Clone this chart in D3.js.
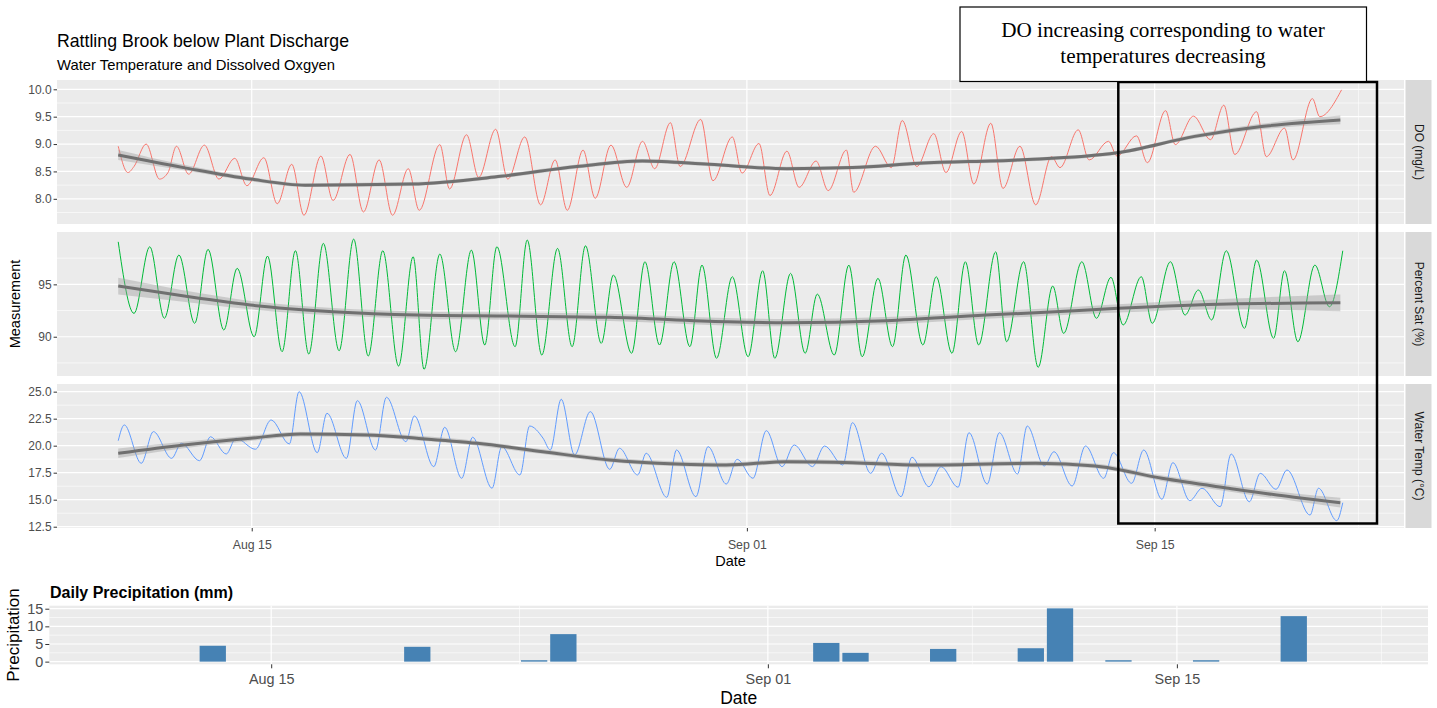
<!DOCTYPE html>
<html>
<head>
<meta charset="utf-8">
<script src="https://cdn.jsdelivr.net/npm/d3@7"></script>
<style>
  body { margin: 0; background: #fff; }
  svg { display: block; font-family: Arial, "Liberation Sans", sans-serif; }
</style>
</head>
<body>
<div id="chart"></div>
<script>
// logger readings, hours since 2019-08-10 00:00 (daily highs and lows)
const doHours = [10,18,23,33,44,51,58,68,81,93,106,116,130,141,153,163,177,187,201,212,225,236,249,258,275,283,297,307,321,331,345,358,370,380,393,403,416,429,442,452,465,473,490,500,516,524,538,547,561,571,585,595,610,616,634,647,656,668,682,692,705,715,729,739,753,766,779,786,801,810,826,833,849,858,873,881,896,910,921,930,948,956,971,978,994,1000,1018];
const doValues = [8.96,8.48,8.59,9.0,8.36,8.48,8.96,8.45,8.98,8.36,8.74,8.24,8.75,7.91,8.63,7.70,8.78,7.97,8.81,7.76,8.71,7.70,8.55,7.79,8.99,8.18,9.17,8.39,9.27,8.36,9.13,7.89,8.71,7.79,8.89,8.01,8.98,8.21,9.05,8.55,9.39,8.59,9.45,8.33,9.13,8.47,9.01,8.06,8.87,8.21,8.69,8.15,8.89,8.12,8.96,8.57,9.43,8.59,9.19,8.48,9.23,8.27,9.38,8.19,8.96,7.89,8.77,8.57,9.26,8.71,9.05,8.78,9.15,8.66,9.61,8.99,9.51,9.08,9.71,8.81,9.59,8.77,9.29,8.71,9.83,9.50,9.99];

const satHours = [10,23,36,48,60,73,84,97,108,122,133,145,156,167,179,192,204,216,228,241,253,262,275,288,301,312,322,337,347,359,372,384,395,408,418,433,444,456,468,481,491,503,516,529,541,551,564,576,586,600,612,623,636,648,659,673,684,697,708,719,733,742,756,768,780,789,804,816,828,838,853,862,877,889,900,911,923,938,948,962,971,982,996,1008,1019];
const satValues = [99.06,92.23,98.59,91.76,97.80,91.28,98.34,90.64,96.53,90.0,97.70,88.57,98.21,88.35,98.91,88.66,99.32,88.16,98.21,87.2,97.64,86.89,97.89,88.57,98.27,89.21,98.59,89.05,99.23,88.25,98.43,89.05,98.68,89.37,95.89,88.42,97.16,89.21,97.16,89.05,96.84,87.94,95.73,88.09,96.3,87.94,96.05,88.42,94.07,88.25,96.84,88.09,95.57,89.05,97.80,89.21,95.73,88.42,97.16,89.21,98.11,89.52,97.16,87.08,94.84,90.32,97.16,91.76,95.67,91.12,95.73,91.28,97.16,92.07,94.46,91.6,98.21,90.8,97.32,89.85,96.3,89.52,96.84,92.86,98.21];

const tempHours = [10,15,29,39,54,62,77,86,99,107,123,136,151,159,174,182,198,207,222,231,247,254,270,279,293,302,318,326,341,349,360,366,375,386,399,415,423,438,445,462,470,486,496,511,520,533,544,557,567,582,592,607,615,630,639,655,664,678,688,702,711,726,736,751,759,773,781,796,807,822,830,845,855,870,879,893,903,918,927,942,951,964,973,992,999,1014,1019];
const tempValues = [20.46,21.92,18.37,21.30,18.83,20.22,18.61,20.83,19.23,20.69,19.67,22.38,20.16,25.0,19.35,23.0,18.83,24.17,19.6,24.48,20.37,22.75,18.06,21.7,16.98,20.78,16.06,19.91,17.29,21.82,20.7,19.6,24.3,19.14,23.15,17.81,19.76,17.29,19.3,15.22,19.6,15.28,19.91,16.45,18.74,16.98,21.39,18.06,20.07,18.06,19.97,18.21,22.13,17.44,19.3,15.28,18.93,16.2,18.06,16.15,21.2,16.45,21.2,17.38,21.82,18.12,19.44,16.27,19.97,16.98,19.35,16.52,19.6,15.04,18.43,14.91,16.06,14.35,19.23,14.81,17.44,15.96,17.75,13.58,16.06,13.06,14.72];

// loess fits with half-width of the confidence band
const doSmoothHours = [10,64,119,164,252,325,388,442,497,561,615,670,752,833,897,952,1017];
const doSmooth = [8.80,8.57,8.36,8.25,8.27,8.41,8.59,8.69,8.63,8.55,8.57,8.65,8.71,8.84,9.14,9.32,9.44];
const doSe = [0.09,0.05,0.04,0.035,0.035,0.035,0.035,0.035,0.035,0.035,0.035,0.035,0.035,0.035,0.04,0.05,0.08];

const satSmoothHours = [10,78,119,187,256,333,415,511,561,643,725,766,834,925,1017];
const satSmooth = [94.84,93.66,93.02,92.39,92.07,91.97,91.85,91.43,91.34,91.53,92.07,92.29,92.71,93.12,93.24];
const satSe = [0.8,0.5,0.4,0.35,0.35,0.35,0.35,0.35,0.35,0.35,0.35,0.35,0.4,0.5,0.8];

const tempSmoothHours = [10,64,119,160,215,256,306,360,415,470,511,561,615,670,766,815,870,925,979,1017];
const tempSmooth = [19.3,20.07,20.69,21.08,20.99,20.69,20.22,19.44,18.68,18.31,18.21,18.52,18.43,18.21,18.37,18.12,16.98,16.06,15.22,14.72];
const tempSe = [0.45,0.3,0.25,0.22,0.22,0.22,0.22,0.22,0.22,0.22,0.22,0.22,0.22,0.22,0.22,0.22,0.25,0.3,0.35,0.45];

const dateTicks = ["2019-08-15", "2019-09-01", "2019-09-15"];

// daily precipitation, Aug 10 .. Sep 21
const precipStart = "2019-08-10";
const precipValues = [0,0,0,4.5,0,0,0,0,0,0,4.2,0,0,0,0.4,7.8,0,0,0,0,0,0,0,0,5.3,2.5,0,0,3.6,0,0,3.8,15.1,0,0.4,0,0,0.4,0,0,12.9,0,0];
const precipTicks = [0, 5, 10, 15];

const width = 1437, height = 708;
const svg = d3.select("#chart").append("svg")
  .attr("width", width)
  .attr("height", height);

const parseDay = d3.timeParse("%Y-%m-%d");
const t0 = parseDay("2019-08-10");
const hourToDate = h => new Date(t0.getTime() + h * 3600e3);
const fmtDate = d3.timeFormat("%b %d");
const xTickDates = dateTicks.map(parseDay);

function minorBreaks(major, lo, hi) {
  const b = major.slice();
  const out = [];
  if (lo < b[0]) b.unshift(b[0] - (b[1] - b[0]));
  if (hi > b[b.length - 1]) b.push(b[b.length - 1] + (b[b.length - 1] - b[b.length - 2]));
  for (let i = 0; i < b.length - 1; i++) out.push((b[i] + b[i + 1]) / 2);
  return out.filter(v => v >= lo && v <= hi);
}

const grey = "#EBEBEB", tickCol = "#333333", labCol = "#4D4D4D";

// ---------- top chart ----------
const left = 57, right = 1404;
const panelTops = [80, 232, 384], panelH = 144;

const hExt = d3.extent(d3.merge([doHours, satHours, tempHours]));
const hPad = (hExt[1] - hExt[0]) * 0.05;
const x = d3.scaleTime()
  .domain([hourToDate(hExt[0] - hPad), hourToDate(hExt[1] + hPad)])
  .range([left, right]);

const xMajorMs = xTickDates.map(d => +d);
const xMinor = minorBreaks(xMajorMs, +x.domain()[0], +x.domain()[1]).map(v => new Date(v));

const panels = [
  { label: "DO (mg/L)", hours: doHours, values: doValues, sh: doSmoothHours, sv: doSmooth, se: doSe,
    color: "#F8766D", domain: [7.54, 10.17], ticks: [8, 8.5, 9, 9.5, 10], fmt: d3.format(".1f") },
  { label: "Percent Sat (%)", hours: satHours, values: satValues, sh: satSmoothHours, sv: satSmooth, se: satSe,
    color: "#00BA38", domain: [86.25, 100.0], ticks: [90, 95], fmt: d3.format("d") },
  { label: "Water Temp (°C)", hours: tempHours, values: tempValues, sh: tempSmoothHours, sv: tempSmooth, se: tempSe,
    color: "#619CFF", domain: [12.38, 25.71], ticks: [12.5, 15, 17.5, 20, 22.5, 25], fmt: d3.format(".1f") }
];

panels.forEach((p, i) => {
  const top = panelTops[i];
  const y = d3.scaleLinear().domain(p.domain).range([top + panelH, top]);
  const g = svg.append("g");

  g.append("rect").attr("x", left).attr("y", top)
    .attr("width", right - left).attr("height", panelH).attr("fill", grey);

  const yMinor = minorBreaks(p.ticks, p.domain[0], p.domain[1]);
  g.selectAll(".ymin").data(yMinor).enter().append("line")
    .attr("x1", left).attr("x2", right).attr("y1", d => y(d)).attr("y2", d => y(d))
    .attr("stroke", "#fff").attr("stroke-width", 0.6);
  g.selectAll(".xmin").data(xMinor).enter().append("line")
    .attr("x1", d => x(d)).attr("x2", d => x(d)).attr("y1", top).attr("y2", top + panelH)
    .attr("stroke", "#fff").attr("stroke-width", 0.6);
  g.selectAll(".ymaj").data(p.ticks).enter().append("line")
    .attr("x1", left).attr("x2", right).attr("y1", d => y(d)).attr("y2", d => y(d))
    .attr("stroke", "#fff").attr("stroke-width", 1.2);
  g.selectAll(".xmaj").data(xTickDates).enter().append("line")
    .attr("x1", d => x(d)).attr("x2", d => x(d)).attr("y1", top).attr("y2", top + panelH)
    .attr("stroke", "#fff").attr("stroke-width", 1.2);

  const pts = p.hours.map((h, k) => ({ d: hourToDate(h), v: p.values[k] }));
  g.append("path").datum(pts)
    .attr("fill", "none").attr("stroke", p.color).attr("stroke-width", 1)
    .attr("d", d3.line().x(d => x(d.d)).y(d => y(d.v)).curve(d3.curveMonotoneX));

  const sm = p.sh.map((h, k) => ({ d: hourToDate(h), v: p.sv[k], se: p.se[k] }));
  g.append("path").datum(sm)
    .attr("fill", "#999").attr("fill-opacity", 0.4)
    .attr("d", d3.area().x(d => x(d.d)).y0(d => y(d.v - d.se)).y1(d => y(d.v + d.se)).curve(d3.curveMonotoneX));
  g.append("path").datum(sm)
    .attr("fill", "none").attr("stroke", "#707070").attr("stroke-width", 3)
    .attr("d", d3.line().x(d => x(d.d)).y(d => y(d.v)).curve(d3.curveMonotoneX));

  const ax = g.append("g").attr("transform", `translate(${left},0)`)
    .call(d3.axisLeft(y).tickValues(p.ticks).tickFormat(p.fmt).tickSize(3.4).tickPadding(2));
  ax.select(".domain").remove();
  ax.selectAll("line").attr("stroke", tickCol);
  ax.selectAll("text").attr("fill", labCol).attr("font-size", "12px").attr("font-family", null);

  // strip
  g.append("rect").attr("x", right + 1.5).attr("y", top)
    .attr("width", 26).attr("height", panelH).attr("fill", "#D9D9D9");
  g.append("text")
    .attr("transform", `translate(${right + 14.5},${top + panelH / 2}) rotate(90)`)
    .attr("text-anchor", "middle").attr("dominant-baseline", "central")
    .attr("font-size", "12px").attr("fill", "#1A1A1A").text(p.label);
});

const xAxis = svg.append("g").attr("transform", `translate(0,${panelTops[2] + panelH})`)
  .call(d3.axisBottom(x).tickValues(xTickDates).tickFormat(fmtDate).tickSize(3.4).tickPadding(9));
xAxis.select(".domain").remove();
xAxis.selectAll("line").attr("stroke", tickCol);
xAxis.selectAll("text").attr("fill", labCol).attr("font-size", "12.3px").attr("font-family", null);

svg.append("text").attr("x", left).attr("y", 47)
  .attr("font-size", "17.7px").attr("fill", "#000").text("Rattling Brook below Plant Discharge");
svg.append("text").attr("x", left).attr("y", 70)
  .attr("font-size", "14.8px").attr("fill", "#000").text("Water Temperature and Dissolved Oxgyen");
svg.append("text").attr("x", (left + right) / 2).attr("y", 566)
  .attr("text-anchor", "middle").attr("font-size", "14.5px").attr("fill", "#000").text("Date");
svg.append("text")
  .attr("transform", `translate(20,${(panelTops[0] + panelTops[2] + panelH) / 2}) rotate(-90)`)
  .attr("text-anchor", "middle").attr("font-size", "14.5px").attr("fill", "#000").text("Measurement");

// ---------- precipitation chart ----------
const bLeft = 49.3, bRight = 1428, bTop = 605.7, bBottom = 664.3;
const pStart = parseDay(precipStart);
const precipDays = precipValues.map((v, i) => d3.timeDay.offset(pStart, i));
const halfBar = 0.45 * 864e5;
const dExt = [+precipDays[0] - halfBar, +precipDays[precipDays.length - 1] + halfBar];
const dPad = (dExt[1] - dExt[0]) * 0.05;
const bx = d3.scaleTime().domain([new Date(dExt[0] - dPad), new Date(dExt[1] + dPad)]).range([bLeft, bRight]);
const pMax = d3.max(precipValues);
const by = d3.scaleLinear().domain([-pMax * 0.05, pMax * 1.05]).range([bBottom, bTop]);

const bg = svg.append("g");
bg.append("rect").attr("x", bLeft).attr("y", bTop)
  .attr("width", bRight - bLeft).attr("height", bBottom - bTop).attr("fill", grey);
const bxMinor = minorBreaks(xMajorMs, +bx.domain()[0], +bx.domain()[1]).map(v => new Date(v));
const byMinor = minorBreaks(precipTicks, by.domain()[0], by.domain()[1]);
bg.selectAll(".ymin").data(byMinor).enter().append("line")
  .attr("x1", bLeft).attr("x2", bRight).attr("y1", d => by(d)).attr("y2", d => by(d))
  .attr("stroke", "#fff").attr("stroke-width", 0.6);
bg.selectAll(".xmin").data(bxMinor).enter().append("line")
  .attr("x1", d => bx(d)).attr("x2", d => bx(d)).attr("y1", bTop).attr("y2", bBottom)
  .attr("stroke", "#fff").attr("stroke-width", 0.6);
bg.selectAll(".ymaj").data(precipTicks).enter().append("line")
  .attr("x1", bLeft).attr("x2", bRight).attr("y1", d => by(d)).attr("y2", d => by(d))
  .attr("stroke", "#fff").attr("stroke-width", 1.2);
bg.selectAll(".xmaj").data(xTickDates).enter().append("line")
  .attr("x1", d => bx(d)).attr("x2", d => bx(d)).attr("y1", bTop).attr("y2", bBottom)
  .attr("stroke", "#fff").attr("stroke-width", 1.2);

bg.selectAll(".bar").data(precipDays.map((d, i) => ({ d, v: precipValues[i] })).filter(e => e.v > 0))
  .enter().append("rect")
  .attr("x", e => bx(new Date(+e.d - halfBar)))
  .attr("width", e => bx(new Date(+e.d + halfBar)) - bx(new Date(+e.d - halfBar)))
  .attr("y", e => by(e.v))
  .attr("height", e => by(0) - by(e.v))
  .attr("fill", "steelblue");

const bAxY = bg.append("g").attr("transform", `translate(${bLeft},0)`)
  .call(d3.axisLeft(by).tickValues(precipTicks).tickSize(4).tickPadding(2));
bAxY.select(".domain").remove();
bAxY.selectAll("line").attr("stroke", tickCol);
bAxY.selectAll("text").attr("fill", labCol).attr("font-size", "14.4px").attr("font-family", null);

const bAxX = bg.append("g").attr("transform", `translate(0,${bBottom})`)
  .call(d3.axisBottom(bx).tickValues(xTickDates).tickFormat(fmtDate).tickSize(4).tickPadding(5));
bAxX.select(".domain").remove();
bAxX.selectAll("line").attr("stroke", tickCol);
bAxX.selectAll("text").attr("fill", labCol).attr("font-size", "14.4px").attr("font-family", null);

svg.append("text").attr("x", 50).attr("y", 597.7)
  .attr("font-size", "16px").attr("font-weight", "bold").attr("fill", "#000").text("Daily Precipitation (mm)");
svg.append("text").attr("x", (bLeft + bRight) / 2).attr("y", 704)
  .attr("text-anchor", "middle").attr("font-size", "17.5px").attr("fill", "#000").text("Date");
svg.append("text")
  .attr("transform", `translate(19,${(bTop + bBottom) / 2}) rotate(-90)`)
  .attr("text-anchor", "middle").attr("font-size", "17px").attr("fill", "#000").text("Precipitation");

// ---------- annotations ----------
svg.append("rect").attr("x", 1118.3).attr("y", 82).attr("width", 258.7).attr("height", 441.5)
  .attr("fill", "none").attr("stroke", "#000").attr("stroke-width", 2.5);
svg.append("rect").attr("x", 960).attr("y", 7).attr("width", 406.5).attr("height", 74.5)
  .attr("fill", "#fff").attr("stroke", "#000").attr("stroke-width", 1.2);
const note = svg.append("text").attr("text-anchor", "middle")
  .attr("font-family", "'Liberation Serif', 'Times New Roman', serif").attr("font-size", "21.2px").attr("fill", "#000");
note.append("tspan").attr("x", 1163).attr("y", 37.3).text("DO increasing corresponding to water");
note.append("tspan").attr("x", 1163).attr("y", 62.7).text("temperatures decreasing");
</script>
</body>
</html>
